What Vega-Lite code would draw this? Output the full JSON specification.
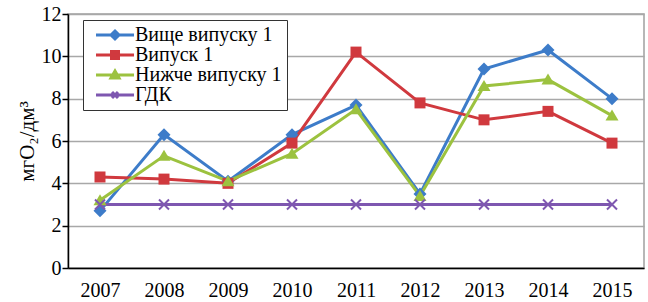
{
  "$schema": "https://vega.github.io/schema/vega-lite/v6.json",
  "autosize": "none",
  "width": 576,
  "height": 254,
  "padding": {"left": 68, "top": 14, "right": 4, "bottom": 34},
  "background": "white",
  "config": {
    "font": "Liberation Serif, Times New Roman, serif",
    "view": {"stroke": "#a0a0a0", "strokeWidth": 1.5},
    "axis": {"labelFont": "Liberation Serif, Times New Roman, serif", "titleFont": "Liberation Serif, Times New Roman, serif"},
    "legend": {"labelFont": "Liberation Serif, Times New Roman, serif"}
  },
  "data": {
    "values": [
      {"year": "2007", "series": "Вище випуску 1", "value": 2.7},
      {"year": "2008", "series": "Вище випуску 1", "value": 6.3},
      {"year": "2009", "series": "Вище випуску 1", "value": 4.1},
      {"year": "2010", "series": "Вище випуску 1", "value": 6.3},
      {"year": "2011", "series": "Вище випуску 1", "value": 7.7},
      {"year": "2012", "series": "Вище випуску 1", "value": 3.5},
      {"year": "2013", "series": "Вище випуску 1", "value": 9.4},
      {"year": "2014", "series": "Вище випуску 1", "value": 10.3},
      {"year": "2015", "series": "Вище випуску 1", "value": 8.0},
      {"year": "2007", "series": "Випуск 1", "value": 4.3},
      {"year": "2008", "series": "Випуск 1", "value": 4.2},
      {"year": "2009", "series": "Випуск 1", "value": 4.0},
      {"year": "2010", "series": "Випуск 1", "value": 5.9},
      {"year": "2011", "series": "Випуск 1", "value": 10.2},
      {"year": "2012", "series": "Випуск 1", "value": 7.8},
      {"year": "2013", "series": "Випуск 1", "value": 7.0},
      {"year": "2014", "series": "Випуск 1", "value": 7.4},
      {"year": "2015", "series": "Випуск 1", "value": 5.9},
      {"year": "2007", "series": "Нижче випуску 1", "value": 3.2},
      {"year": "2008", "series": "Нижче випуску 1", "value": 5.3},
      {"year": "2009", "series": "Нижче випуску 1", "value": 4.1},
      {"year": "2010", "series": "Нижче випуску 1", "value": 5.4},
      {"year": "2011", "series": "Нижче випуску 1", "value": 7.5},
      {"year": "2012", "series": "Нижче випуску 1", "value": 3.4},
      {"year": "2013", "series": "Нижче випуску 1", "value": 8.6},
      {"year": "2014", "series": "Нижче випуску 1", "value": 8.9},
      {"year": "2015", "series": "Нижче випуску 1", "value": 7.2},
      {"year": "2007", "series": "ГДК", "value": 3},
      {"year": "2008", "series": "ГДК", "value": 3},
      {"year": "2009", "series": "ГДК", "value": 3},
      {"year": "2010", "series": "ГДК", "value": 3},
      {"year": "2011", "series": "ГДК", "value": 3},
      {"year": "2012", "series": "ГДК", "value": 3},
      {"year": "2013", "series": "ГДК", "value": 3},
      {"year": "2014", "series": "ГДК", "value": 3},
      {"year": "2015", "series": "ГДК", "value": 3}
    ]
  },
  "encoding": {
    "x": {
      "field": "year",
      "type": "ordinal",
      "scale": {"type": "point", "padding": 0.5},
      "axis": {
        "title": null,
        "labelAngle": 0,
        "labelFontSize": 20,
        "labelColor": "black",
        "labelPadding": 12,
        "domainColor": "black",
        "domainWidth": 1.5,
        "ticks": false,
        "grid": false
      }
    },
    "y": {
      "field": "value",
      "type": "quantitative",
      "scale": {"domain": [0, 12], "nice": false},
      "axis": {
        "title": "мгО₂/дм³",
        "titleFontSize": 21,
        "titleFontWeight": "normal",
        "titleColor": "black",
        "titlePadding": 4,
        "values": [0, 2, 4, 6, 8, 10, 12],
        "labelFontSize": 20,
        "labelColor": "black",
        "labelPadding": 1,
        "domainColor": "black",
        "domainWidth": 1.5,
        "tickColor": "black",
        "tickSize": 6,
        "tickWidth": 1.5,
        "gridColor": "#a8a8a8",
        "gridWidth": 1.5
      }
    }
  },
  "layer": [
    {
      "mark": {"type": "line", "strokeWidth": 3},
      "encoding": {
        "color": {
          "field": "series",
          "type": "nominal",
          "sort": ["Вище випуску 1", "Випуск 1", "Нижче випуску 1", "ГДК"],
          "scale": {
            "domain": ["Вище випуску 1", "Випуск 1", "Нижче випуску 1", "ГДК"],
            "range": ["#3d7cc9", "#d0393e", "#9cc23f", "#7e57b0"]
          },
          "legend": {
            "title": null,
            "orient": "none",
            "legendX": 15,
            "legendY": 6,
            "direction": "vertical",
            "strokeColor": "#333333",
            "fillColor": "white",
            "padding": 5,
            "labelFontSize": 20,
            "labelColor": "black",
            "labelLimit": 300,
            "symbolSize": 100,
            "symbolOffset": 17,
            "labelOffset": 10,
            "rowPadding": 0,
            "symbolStrokeWidth": 3,
            "encode": {
              "symbols": {
                "update": {
                  "shape": {"signal": "datum.value === 'Вище випуску 1' ? 'M-3.8,0L3.8,0M0,-0.8L0.8,0L0,0.8L-0.8,0Z' : datum.value === 'Випуск 1' ? 'M-3.8,0L3.8,0M-0.7,-0.7L0.7,-0.7L0.7,0.7L-0.7,0.7Z' : datum.value === 'Нижче випуску 1' ? 'M-3.8,0L3.8,0M0,-0.8L0.8,0.6L-0.8,0.6Z' : 'M-3.8,0L3.8,0M-0.6,-0.6L0.6,0.6M-0.6,0.6L0.6,-0.6'"},
                  "fill": {"signal": "scale('color', datum.value)"},
                  "stroke": {"signal": "scale('color', datum.value)"},
                  "fillOpacity": {"value": 1},
                  "strokeOpacity": {"value": 1},
                  "strokeWidth": {"value": 3}
                }
              }
            }
          }
        }
      }
    },
    {
      "transform": [{"filter": "datum.series === 'Вище випуску 1'"}],
      "mark": {"type": "point", "filled": true, "opacity": 1, "size": 100, "shape": "M0,-1.3L1.3,0L0,1.3L-1.3,0Z", "color": "#3d7cc9"}
    },
    {
      "transform": [{"filter": "datum.series === 'Випуск 1'"}],
      "mark": {"type": "point", "filled": true, "opacity": 1, "size": 100, "shape": "M-1.1,-1.1L1.1,-1.1L1.1,1.1L-1.1,1.1Z", "color": "#d0393e"}
    },
    {
      "transform": [{"filter": "datum.series === 'Нижче випуску 1'"}],
      "mark": {"type": "point", "filled": true, "opacity": 1, "size": 100, "shape": "M0,-1.2L1.3,1L-1.3,1Z", "color": "#9cc23f"}
    },
    {
      "transform": [{"filter": "datum.series === 'ГДК'"}],
      "mark": {"type": "point", "filled": false, "opacity": 1, "size": 100, "strokeWidth": 2, "shape": "M-1,-1L1,1M-1,1L1,-1", "color": "#7e57b0"}
    }
  ]
}
